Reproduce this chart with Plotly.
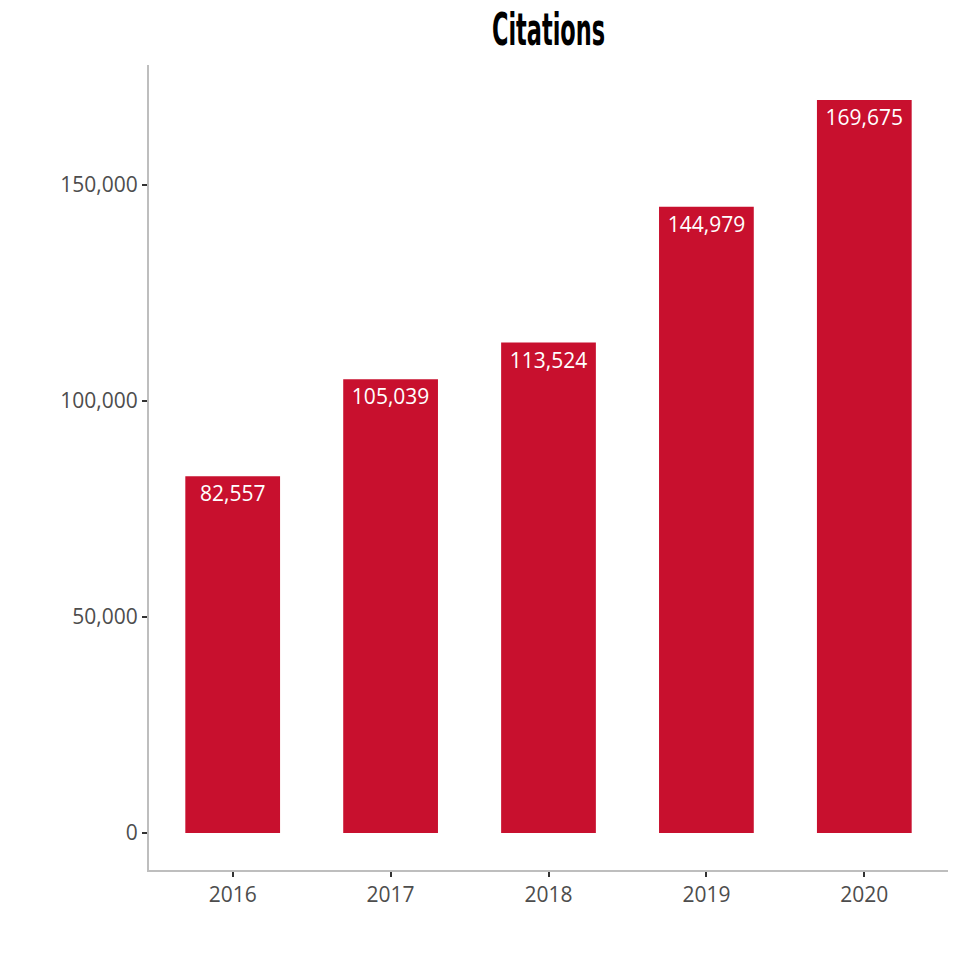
import plotly.graph_objects as go

years = ["2016", "2017", "2018", "2019", "2020"]
citations = [82557, 105039, 113524, 144979, 169675]
y_ticks = [0, 50000, 100000, 150000]
y_tick_labels = ["0", "50,000", "100,000", "150,000"]

bar_color = "#C8102E"
font_family = "Open Sans, sans-serif"

fig = go.Figure(go.Bar(
    x=years,
    y=citations,
    width=0.6,
    marker=dict(color=bar_color, line=dict(width=0)),
    text=[f"{v:,}" for v in citations],
    textposition="inside",
    insidetextanchor="end",
    textangle=0,
    textfont=dict(color="white", size=21, family=font_family),
    cliponaxis=False,
))

fig.update_layout(
    width=960, height=960,
    paper_bgcolor="white", plot_bgcolor="white",
    margin=dict(l=149, r=12, t=65, b=90),
    title=dict(
        text="<b>Citations</b>",
        x=0.5, xanchor="center", xref="paper",
        y=0.9695, yanchor="middle",
        font=dict(family="DejaVu Sans, sans-serif", size=44, color="black"),
    ),
    showlegend=False,
    font=dict(family=font_family, color="#4d4d4d"),
)

fig.update_xaxes(
    type="category",
    range=[-0.53, 4.53],
    showline=True, linecolor="#bebebe", linewidth=2,
    ticks="outside", ticklen=5, tickcolor="#333333", tickwidth=2,
    tickfont=dict(size=21, color="#4d4d4d", family=font_family),
    showgrid=False, zeroline=False,
)
fig.update_yaxes(
    range=[-8565, 177778],
    tickvals=y_ticks, ticktext=y_tick_labels,
    showline=True, linecolor="#bebebe", linewidth=2,
    ticks="outside", ticklen=5, tickcolor="#333333", tickwidth=2,
    tickfont=dict(size=21, color="#4d4d4d", family=font_family),
    showgrid=False, zeroline=False,
)

post = """
document.body.style.margin='0';document.body.style.padding='0';
var t=document.querySelector('.gtitle');
if(t){var b=t.getBBox();var cx=b.x+b.width/2;
t.setAttribute('transform','translate('+cx+',0) scale(0.51,1) translate('+(-cx)+',0)');}
"""

fig.write_html("out.html", config={"displayModeBar": False}, post_script=post)
